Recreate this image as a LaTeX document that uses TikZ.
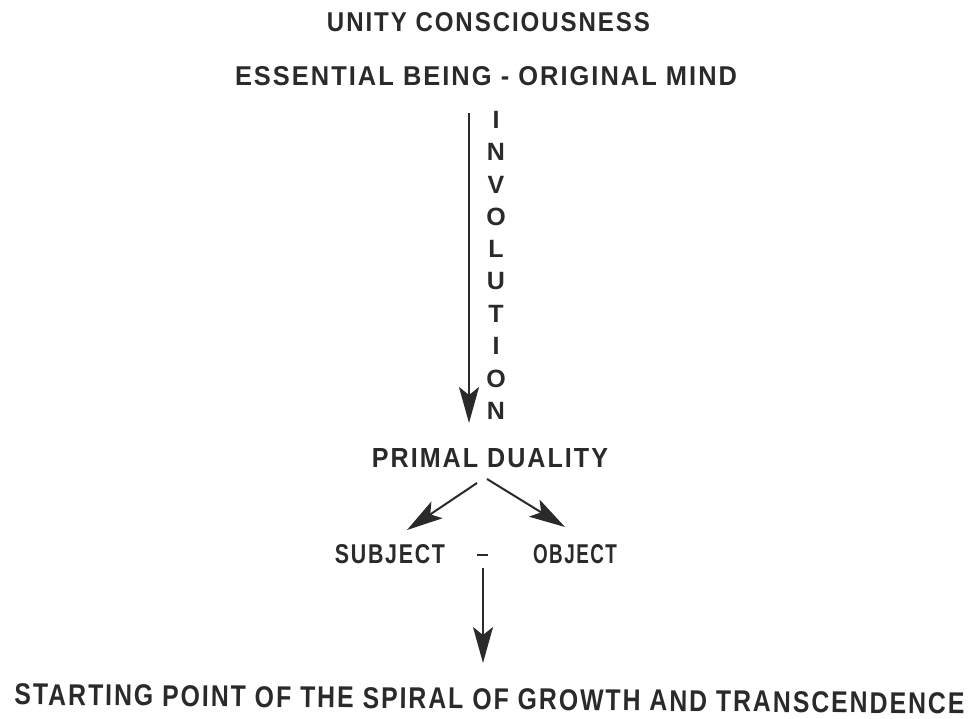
\documentclass[tikz,border=0pt]{standalone}
\usepackage{fontspec}
\setmainfont[LetterSpace=8]{Liberation Sans}
\usetikzlibrary{arrows.meta}
\newcommand\fitbox[3]{\resizebox{#1pt}{#2pt}{#3}}
\definecolor{ink}{HTML}{2A2A2A}
\tikzset{
  lbl/.style={inner sep=0pt, text=ink, anchor=center, font=\bfseries},
  vlet/.style={inner sep=0pt, text=ink, anchor=center, font=\fontsize{25}{25}\selectfont\bfseries},
  arr/.style={draw=ink, line width=2pt, -{Stealth[length=36pt,width=20pt,inset=8pt]}},
}
\begin{document}
\begin{tikzpicture}[x=1pt,y=-1pt]
\useasboundingbox[fill=white] (0,0) rectangle (974,719);
\node[lbl] (unity) at (488.5,22.5) {\fitbox{323}{19}{UNITY CONSCIOUSNESS}};
\node[lbl] (essential) at (486,76) {\fitbox{502}{19}{ESSENTIAL BEING - ORIGINAL MIND}};
% INVOLUTION letters
\foreach \l [count=\i from 0] in {I,N,V,O,L,U,T,I,O,N}{
  \node[vlet] (inv\i) at (496,{120+32.3*\i}) {\l};
}
\coordinate (invtop) at (469,113);
\coordinate (invtip) at (469,423);
\draw[arr] (invtop) -- (invtip);
\node[lbl] (primal) at (490,458) {\fitbox{236}{19}{PRIMAL DUALITY}};
\node[lbl] (subject) at (390,554) {\fitbox{110}{19}{SUBJECT}};
\node[lbl] (dash) at (482.5,555) {\fitbox{11}{2.5}{\rule{10pt}{2pt}}};
\node[lbl] (object) at (575,554) {\fitbox{84}{19}{OBJECT}};
\coordinate (lstart) at (477,483);
\coordinate (ltip) at (407,530);
\coordinate (rstart) at (487,479);
\coordinate (rtip) at (565,527);
\draw[arr] (lstart) -- (ltip);
\draw[arr] (rstart) -- (rtip);
\coordinate (dstart) at (483,568);
\coordinate (dtip) at (483,663);
\draw[arr] (dstart) -- (dtip);
\node[lbl, rotate=-0.55] (start) at (489.5,699) {\fitbox{950}{21}{STARTING POINT OF THE SPIRAL OF GROWTH AND TRANSCENDENCE}};
\end{tikzpicture}
\end{document}
